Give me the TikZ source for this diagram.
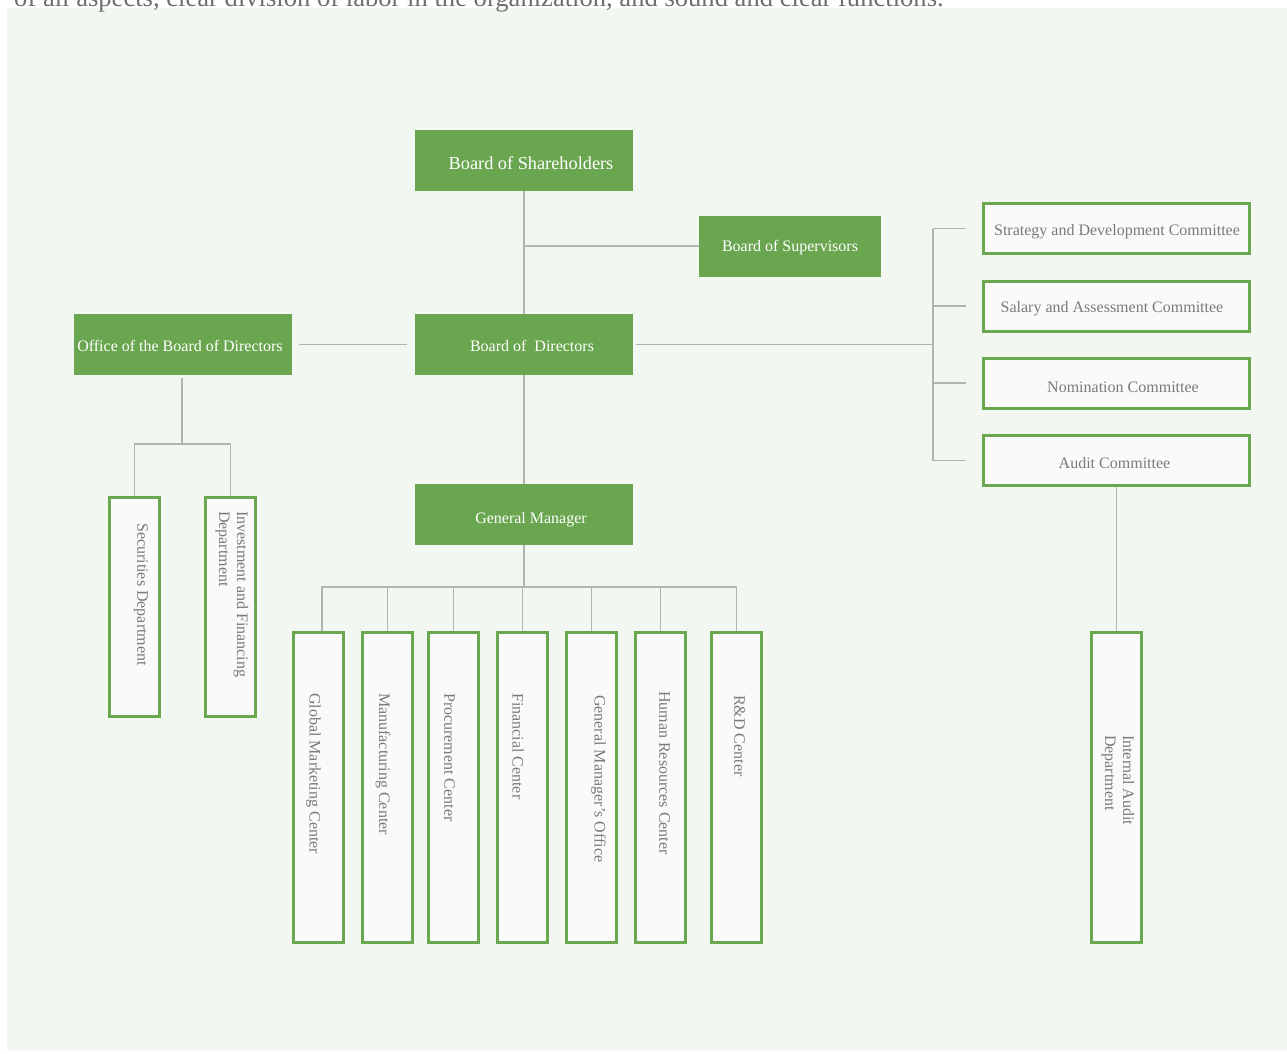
\documentclass[tikz,border=0pt]{standalone}
\usepackage{fontspec}
\setmainfont{Liberation Serif}
\definecolor{gfill}{HTML}{6AA64F}
\definecolor{gline}{HTML}{6AA84F}
\definecolor{bgc}{HTML}{F3F7F1}
\definecolor{lnc}{HTML}{B3B3B3}
\definecolor{txc}{HTML}{7A7A7A}
\definecolor{boxw}{HTML}{FAFAFA}
\definecolor{toptx}{HTML}{6F6F6F}
\begin{document}
\begin{tikzpicture}[x=1pt,y=-1pt,
  gbox/.style={fill=gfill, draw=none, inner sep=0pt, minimum width=218pt, minimum height=61pt},
  wbox/.style={fill=boxw, draw=gline, line width=3pt, inner sep=0pt, minimum width=266pt, minimum height=50pt},
  vbox/.style={fill=boxw, draw=gline, line width=3pt, inner sep=0pt, minimum width=50pt},
  gtext/.style={text=white, inner sep=0pt, font=\fontsize{16}{19}\selectfont},
  wtext/.style={text=txc, inner sep=0pt, font=\fontsize{16}{19}\selectfont},
  vtext/.style={text=txc, inner sep=0pt, rotate=-90, anchor=west, align=left, font=\fontsize{16}{18}\selectfont},
  conn/.style={draw=lnc, line width=1.5pt}]
\useasboundingbox (0,0) rectangle (1287,1053);
\fill[bgc] (7,8) rectangle (1287,1051);
\node[anchor=base west, text=toptx, inner sep=0pt, font=\fontsize{26.6}{30}\selectfont] (intro) at (14,6) {of all aspects, clear division of labor in the organization, and sound and clear functions.};

% green boxes
\node[gbox] (sh) at (524,160) {};
\node[gtext, font=\fontsize{18.3}{21}\selectfont] (sht) at (531,163) {Board of Shareholders};
\node[gbox, minimum width=182pt] (sup) at (790,246) {};
\node[gtext] (supt) at (790,248) {Board of Supervisors};
\node[gbox] (off) at (183,344.5) {};
\node[gtext] (offt) at (180,346) {Office of the Board of Directors};
\node[gbox] (bod) at (524,344.5) {};
\node[gtext] (bodt) at (532,346) {Board of\ \ Directors};
\node[gbox] (gm) at (524,514.5) {};
\node[gtext] (gmt) at (531,520) {General Manager};

% committees
\node[wbox] (c1) at (1116.5,228.5) {};
\node[wtext] (c1t) at (1117,232) {Strategy and Development Committee};
\node[wbox] (c2) at (1116.5,306) {};
\node[wtext] (c2t) at (1112,309) {Salary and Assessment Committee};
\node[wbox] (c3) at (1116.5,383) {};
\node[wtext] (c3t) at (1123,387) {Nomination Committee};
\node[wbox] (c4) at (1116.5,460.5) {};
\node[wtext] (c4t) at (1114.5,463) {Audit Committee};

% vertical boxes left
\node[vbox, minimum height=219pt] (sec) at (134.5,607) {};
\node[vtext] (sect) at (141,523) {Securities Department};
\node[vbox, minimum height=219pt] (inv) at (230.5,607) {};
\node[vtext] (invt) at (232,511) {Investment and Financing\\Department};

% bottom boxes
\node[vbox, minimum height=310pt] (b1) at (318.5,787.5) {};
\node[vtext] (b1t) at (313.5,693) {Global Marketing Center};
\node[vbox, minimum height=310pt] (b2) at (387.5,787.5) {};
\node[vtext] (b2t) at (383,693) {Manufacturing Center};
\node[vbox, minimum height=310pt] (b3) at (453.5,787.5) {};
\node[vtext] (b3t) at (449.5,693) {Procurement Center};
\node[vbox, minimum height=310pt] (b4) at (522.5,787.5) {};
\node[vtext] (b4t) at (518,693) {Financial Center};
\node[vbox, minimum height=310pt] (b5) at (591.5,787.5) {};
\node[vtext] (b5t) at (598.5,695) {General Manager's Office};
\node[vbox, minimum height=310pt] (b6) at (660.5,787.5) {};
\node[vtext] (b6t) at (664.5,691) {Human Resources Center};
\node[vbox, minimum height=310pt] (b7) at (736.5,787.5) {};
\node[vtext] (b7t) at (739.5,695) {R\&D Center};

\node[vbox, minimum height=310pt] (ia) at (1116.5,787.5) {};
\node[vtext] (iat) at (1118,735) {Internal Audit\\Department};

% connectors
\draw[conn] (sh.south) -- (bod.north);
\draw[conn] (bod.south) -- (gm.north);
\draw[conn] (sup.west) -- (sup.west -| sh.south);
\draw[conn, shorten <=7pt, shorten >=8pt] (off.east) -- (bod.west);
\coordinate (cbr) at (933,344.5);
\draw[conn, shorten <=3pt] (bod.east) -- (cbr);
\draw[conn] (c1.west -| cbr) -- (c4.west -| cbr);
\foreach \c in {c1,c2,c3,c4}
  \draw[conn, shorten >=16pt] (\c.west -| cbr) -- (\c.west);
\draw[conn] (c4.south) -- (ia.north);
\coordinate (ofj) at (182,444);
\draw[conn, shorten <=3pt] (off.south -| ofj) -- (ofj);
\draw[conn] (sec.north) -- (sec.north |- ofj) -- (inv.north |- ofj) -- (inv.north);
\coordinate (gmj) at (524,587);
\draw[conn] (gm.south) -- (gmj);
\draw[conn] ([xshift=3.5pt]b1.north) -- ([xshift=3.5pt]b1.north |- gmj) -- (b7.north |- gmj) -- (b7.north);
\foreach \b in {b2,b3,b4,b5,b6}
  \draw[conn] (\b.north) -- (\b.north |- gmj);
\end{tikzpicture}
\end{document}
